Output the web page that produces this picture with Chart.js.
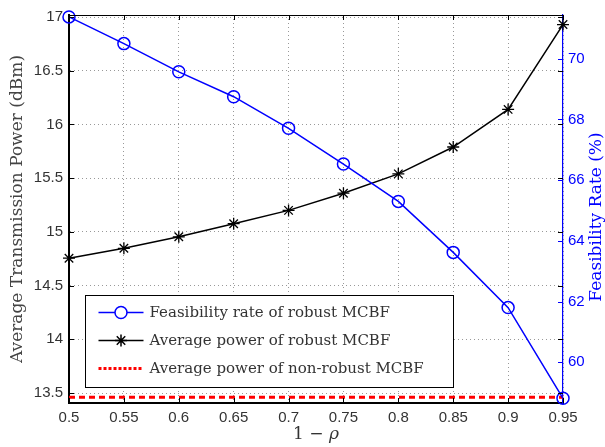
<!DOCTYPE html>
<html>
<head>
<meta charset="utf-8">
<script src="https://cdn.jsdelivr.net/npm/chart.js@4/dist/chart.umd.min.js"></script>
<style>
    html, body { margin: 0; padding: 0; background: #fff; }
    #wrap { width: 605px; height: 447px; }
</style>
</head>
<body>
<div id="wrap"><canvas id="powerChart" width="605" height="447"></canvas></div>
<script>
// Data
const rhoValues = [0.5, 0.55, 0.6, 0.65, 0.7, 0.75, 0.8, 0.85, 0.9, 0.95];
const feasibilityRate = [71.38, 70.50, 69.57, 68.75, 67.71, 66.53, 65.30, 63.62, 61.80, 58.81];
const robustPower = [14.755, 14.847, 14.954, 15.076, 15.20, 15.36, 15.54, 15.79, 16.14, 16.93];
const nonRobustPower = [13.46, 13.46, 13.46, 13.46, 13.46, 13.46, 13.46, 13.46, 13.46, 13.46];

const xTicks = [0.5, 0.55, 0.6, 0.65, 0.7, 0.75, 0.8, 0.85, 0.9, 0.95];
const powerTicks = [13.5, 14, 14.5, 15, 15.5, 16, 16.5, 17];
const rateTicks = [60, 62, 64, 66, 68, 70];

const legendLabels = [
    'Feasibility rate of robust MCBF',
    'Average power of robust MCBF',
    'Average power of non-robust MCBF'
];
const rateTitle = 'Feasibility Rate (%)';

const BLUE = '#0000ff';
const tickFont = { family: '"Liberation Sans", Arial, sans-serif', size: 15 };
const titleFont = { family: '"DejaVu Serif", serif', size: 17, lineHeight: 1 };

function toPoints(ys) {
    return rhoValues.map((x, i) => ({ x: x, y: ys[i] }));
}

// inward ticks, top frame line, axis titles and the boxed legend (MATLAB look)
const matlabFrame = {
    id: 'matlabFrame',
    afterDatasetsDraw(chart) {
        const ctx = chart.ctx;
        const area = chart.chartArea;
        const xs = chart.scales.x, yl = chart.scales.yPower, yr = chart.scales.yRate;
        const len = 5;
        ctx.save();
        ctx.lineWidth = 1;
        ctx.strokeStyle = '#000';
        ctx.beginPath();
        ctx.moveTo(area.left, area.top + 0.5);
        ctx.lineTo(area.right, area.top + 0.5);
        xTicks.forEach(v => {
            const px = Math.round(xs.getPixelForValue(v)) + 0.5;
            ctx.moveTo(px, area.bottom);
            ctx.lineTo(px, area.bottom - len);
            ctx.moveTo(px, area.top);
            ctx.lineTo(px, area.top + len);
        });
        powerTicks.forEach(v => {
            const py = Math.round(yl.getPixelForValue(v)) + 0.5;
            ctx.moveTo(area.left, py);
            ctx.lineTo(area.left + len, py);
            ctx.moveTo(area.right, py);
            ctx.lineTo(area.right - len, py);
        });
        ctx.stroke();
        ctx.strokeStyle = BLUE;
        ctx.beginPath();
        rateTicks.forEach(v => {
            const py = Math.round(yr.getPixelForValue(v)) + 0.5;
            ctx.moveTo(area.right, py);
            ctx.lineTo(area.right - len, py);
        });
        ctx.stroke();

        // x title: "1 − " upright, rho italic
        ctx.textBaseline = 'middle';
        ctx.fillStyle = '#333';
        ctx.font = '17px "DejaVu Serif", serif';
        const head = '1 − ';
        const headW = ctx.measureText(head).width;
        ctx.font = 'italic 17px "DejaVu Serif", serif';
        const rhoW = ctx.measureText('ρ').width;
        const cx = (area.left + area.right) / 2;
        const startX = cx - (headW + rhoW) / 2;
        ctx.textAlign = 'left';
        ctx.font = '17px "DejaVu Serif", serif';
        ctx.fillText(head, startX, 435);
        ctx.font = 'italic 17px "DejaVu Serif", serif';
        ctx.fillText('ρ', startX + headW, 435);

        // right axis title reads bottom-to-top as in MATLAB
        ctx.translate(597, (area.top + area.bottom) / 2 + 8);
        ctx.rotate(-Math.PI / 2);
        ctx.font = '17px "DejaVu Serif", serif';
        ctx.fillStyle = BLUE;
        ctx.textAlign = 'center';
        ctx.fillText(rateTitle, 0, 0);
        ctx.restore();
    },
    afterDraw(chart) {
        const ctx = chart.ctx;
        const area = chart.chartArea;
        const bx = area.left + 16.5, by = area.top + 280.5, bw = 368, bh = 92;
        ctx.save();
        ctx.fillStyle = '#fff';
        ctx.fillRect(bx, by, bw, bh);
        ctx.strokeStyle = '#000';
        ctx.lineWidth = 1;
        ctx.strokeRect(bx, by, bw, bh);
        ctx.font = '15px "DejaVu Serif", serif';
        ctx.textBaseline = 'middle';
        chart.data.datasets.forEach((ds, i) => {
            const cy = by + 17 + i * 28;
            const x0 = bx + 13, x1 = bx + 58;
            ctx.strokeStyle = ds.borderColor;
            ctx.lineWidth = ds.borderWidth;
            ctx.setLineDash(i === 2 ? [3, 2] : []);
            ctx.beginPath();
            ctx.moveTo(x0, cy);
            ctx.lineTo(x1, cy);
            ctx.stroke();
            ctx.setLineDash([]);
            if (ds.pointRadius > 0) {
                Chart.helpers.drawPoint(ctx, {
                    pointStyle: ds.pointStyle,
                    radius: ds.pointRadius,
                    borderWidth: ds.pointBorderWidth
                }, (x0 + x1) / 2, cy);
            }
            ctx.fillStyle = '#333';
            ctx.fillText(legendLabels[i], bx + 64, cy + 1);
        });
        ctx.restore();
    }
};

const ctx = document.getElementById('powerChart').getContext('2d');
new Chart(ctx, {
    type: 'line',
    data: {
        datasets: [
            {
                label: legendLabels[0],
                data: toPoints(feasibilityRate),
                yAxisID: 'yRate',
                borderColor: BLUE,
                borderWidth: 1.5,
                pointStyle: 'circle',
                pointRadius: 6,
                pointBorderWidth: 1.5,
                pointBorderColor: BLUE,
                pointBackgroundColor: 'rgba(0,0,0,0)',
                tension: 0,
                clip: false
            },
            {
                label: legendLabels[1],
                data: toPoints(robustPower),
                yAxisID: 'yPower',
                borderColor: '#000',
                borderWidth: 1.5,
                pointStyle: 'star',
                pointRadius: 6,
                pointBorderWidth: 1.3,
                pointBorderColor: '#000',
                tension: 0,
                clip: false
            },
            {
                label: legendLabels[2],
                data: toPoints(nonRobustPower),
                yAxisID: 'yPower',
                borderColor: '#ff0000',
                borderWidth: 3,
                borderDash: [6, 4],
                pointRadius: 0,
                pointBorderWidth: 0,
                tension: 0
            }
        ]
    },
    options: {
        responsive: false,
        animation: false,
        layout: { padding: { top: 13, left: 0, right: 0, bottom: 0 } },
        plugins: {
            legend: { display: false },
            tooltip: { enabled: false }
        },
        scales: {
            x: {
                type: 'linear',
                min: 0.5,
                max: 0.95,
                afterBuildTicks: axis => { axis.ticks = xTicks.map(v => ({ value: v })); },
                afterFit: axis => { axis.height = 44; },
                ticks: {
                    font: tickFont,
                    color: '#333',
                    padding: 6,
                    maxRotation: 0,
                    autoSkip: false,
                    callback: v => String(v)
                },
                grid: {
                    drawTicks: false,
                    color: 'rgba(0,0,0,0.4)',
                    lineWidth: 1
                },
                border: { color: '#000', width: 2, dash: [1, 3] }
            },
            yPower: {
                type: 'linear',
                position: 'left',
                min: 13.407,
                max: 17.019,
                afterBuildTicks: axis => { axis.ticks = powerTicks.map(v => ({ value: v })); },
                afterFit: axis => { axis.width = 69; },
                ticks: {
                    font: tickFont,
                    color: '#333',
                    padding: 6,
                    autoSkip: false,
                    callback: v => String(v)
                },
                grid: {
                    drawTicks: false,
                    color: 'rgba(0,0,0,0.4)',
                    lineWidth: 1
                },
                border: { color: '#000', width: 2, dash: [1, 3] },
                title: {
                    display: true,
                    text: 'Average Transmission Power (dBm)',
                    font: titleFont,
                    color: '#444',
                    padding: { top: 9, bottom: 0 }
                }
            },
            yRate: {
                type: 'linear',
                position: 'right',
                min: 58.656,
                max: 71.443,
                afterBuildTicks: axis => { axis.ticks = rateTicks.map(v => ({ value: v })); },
                afterFit: axis => { axis.width = 42; },
                ticks: {
                    font: tickFont,
                    color: BLUE,
                    padding: 5,
                    autoSkip: false,
                    callback: v => String(v)
                },
                grid: { display: false, drawTicks: false },
                border: { color: BLUE, width: 1.2 }
            }
        }
    },
    plugins: [matlabFrame]
});
</script>
</body>
</html>
